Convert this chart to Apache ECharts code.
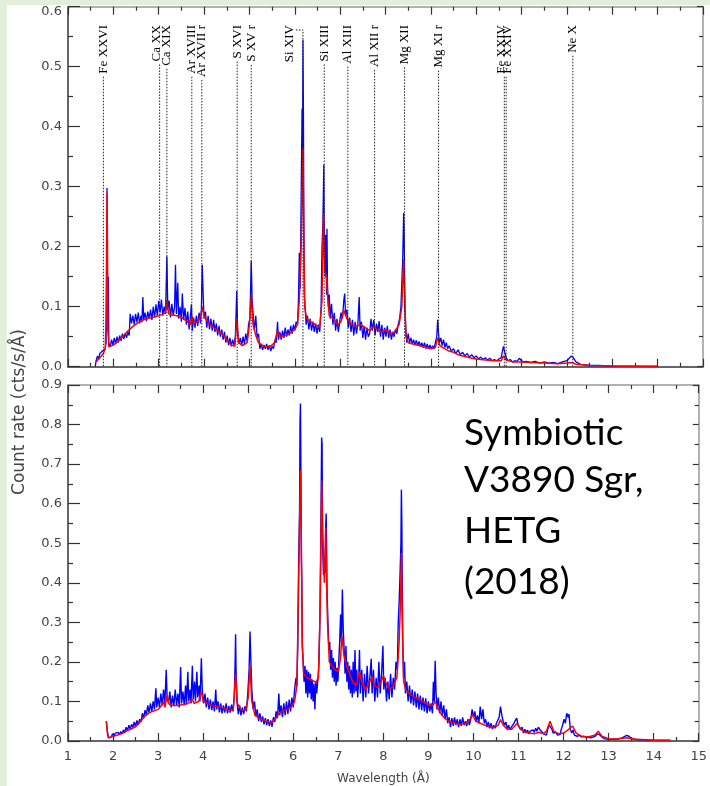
<!DOCTYPE html>
<html><head><meta charset="utf-8">
<script src="https://cdn.jsdelivr.net/npm/echarts@6/dist/echarts.min.js"></script>
<style>html,body{margin:0;padding:0;background:#e2efda;}#c{width:710px;height:786px;}</style>
</head><body><div id="c"></div>
<script>
// ---------- DATA ----------
// Ion line identifications (wavelength in Å)
const lineNames = ['Fe XXVI','Ca XX','Ca XIX','Ar XVIII','Ar XVII r','S XVI','S XV r','Si XIV','Si XIII','Al XIII','Al XII r','Mg XII','Mg XI r','Fe XXIV','Fe XXIV','Ne X'];
const lineWaves = [1.78,3.02,3.18,3.73,3.95,4.73,5.04,6.18,6.65,7.17,7.76,8.42,9.17,10.62,10.66,12.13];
const lineLabelShift = [0,-3,0,0,0,0,0,-13,0,0,0,0,0,-3,1,0]; // label x offset (px) from its line

const xTicks = [1,15,1];
const yTopTicks = [0,0.6,0.1];
const yBotTicks = [0,0.9,0.1];

// Upper panel: observed (blue) and model (red)
const topBlue = [[1.60,0.000],[1.62,0.010],[1.65,0.018],[1.68,0.012],[1.70,0.022],[1.73,0.020],[1.76,0.026],[1.79,0.024],[1.82,0.030],[1.84,0.040],[1.85,0.120],[1.86,0.298],[1.87,0.150],[1.88,0.060],[1.89,0.150],[1.90,0.040],[1.93,0.033],[1.96,0.045],[1.99,0.036],[2.02,0.048],[2.05,0.038],[2.08,0.050],[2.11,0.040],[2.14,0.052],[2.17,0.043],[2.20,0.055],[2.23,0.046],[2.26,0.056],[2.29,0.048],[2.32,0.058],[2.35,0.052],[2.37,0.088],[2.40,0.072],[2.43,0.085],[2.46,0.070],[2.49,0.088],[2.52,0.074],[2.55,0.090],[2.58,0.072],[2.61,0.085],[2.63,0.074],[2.65,0.116],[2.67,0.078],[2.70,0.090],[2.73,0.076],[2.76,0.092],[2.79,0.080],[2.82,0.095],[2.85,0.078],[2.88,0.100],[2.91,0.082],[2.94,0.104],[2.97,0.085],[3.00,0.110],[3.03,0.090],[3.06,0.112],[3.09,0.085],[3.12,0.100],[3.15,0.088],[3.18,0.184],[3.20,0.095],[3.23,0.110],[3.26,0.082],[3.29,0.105],[3.32,0.085],[3.35,0.100],[3.37,0.170],[3.39,0.088],[3.42,0.140],[3.44,0.080],[3.47,0.100],[3.50,0.075],[3.52,0.122],[3.55,0.078],[3.58,0.098],[3.61,0.070],[3.64,0.092],[3.67,0.062],[3.70,0.085],[3.72,0.104],[3.74,0.060],[3.77,0.082],[3.80,0.065],[3.83,0.085],[3.86,0.068],[3.89,0.090],[3.92,0.072],[3.94,0.095],[3.96,0.170],[3.98,0.120],[4.00,0.080],[4.03,0.092],[4.06,0.065],[4.09,0.085],[4.12,0.062],[4.15,0.080],[4.18,0.060],[4.21,0.078],[4.24,0.058],[4.27,0.072],[4.30,0.052],[4.33,0.068],[4.36,0.050],[4.39,0.062],[4.42,0.045],[4.45,0.058],[4.48,0.040],[4.51,0.052],[4.54,0.036],[4.57,0.048],[4.60,0.034],[4.63,0.045],[4.66,0.036],[4.69,0.050],[4.72,0.126],[4.74,0.060],[4.77,0.038],[4.80,0.048],[4.83,0.035],[4.86,0.050],[4.89,0.038],[4.92,0.055],[4.95,0.042],[4.98,0.070],[5.01,0.080],[5.04,0.176],[5.06,0.110],[5.08,0.090],[5.11,0.060],[5.14,0.085],[5.17,0.048],[5.20,0.055],[5.23,0.030],[5.26,0.038],[5.29,0.028],[5.32,0.036],[5.35,0.030],[5.38,0.038],[5.41,0.028],[5.44,0.036],[5.47,0.026],[5.50,0.034],[5.53,0.030],[5.56,0.044],[5.59,0.040],[5.62,0.075],[5.64,0.045],[5.67,0.058],[5.70,0.045],[5.73,0.060],[5.76,0.048],[5.79,0.065],[5.82,0.050],[5.85,0.062],[5.88,0.052],[5.91,0.068],[5.94,0.055],[5.97,0.070],[6.00,0.060],[6.03,0.075],[6.06,0.070],[6.08,0.110],[6.10,0.190],[6.12,0.130],[6.14,0.280],[6.16,0.430],[6.17,0.300],[6.18,0.545],[6.19,0.430],[6.20,0.250],[6.21,0.120],[6.23,0.095],[6.25,0.070],[6.28,0.085],[6.31,0.062],[6.34,0.080],[6.37,0.060],[6.40,0.075],[6.43,0.058],[6.46,0.072],[6.49,0.055],[6.52,0.070],[6.55,0.058],[6.58,0.100],[6.60,0.200],[6.62,0.240],[6.64,0.337],[6.65,0.200],[6.67,0.150],[6.68,0.220],[6.70,0.120],[6.71,0.230],[6.72,0.140],[6.74,0.100],[6.76,0.120],[6.78,0.080],[6.81,0.105],[6.84,0.070],[6.87,0.090],[6.90,0.060],[6.93,0.080],[6.96,0.058],[6.99,0.075],[7.02,0.090],[7.05,0.080],[7.08,0.110],[7.10,0.122],[7.12,0.085],[7.15,0.095],[7.18,0.065],[7.21,0.082],[7.24,0.058],[7.27,0.078],[7.30,0.052],[7.33,0.075],[7.36,0.055],[7.39,0.070],[7.42,0.116],[7.44,0.060],[7.47,0.075],[7.50,0.048],[7.53,0.068],[7.56,0.045],[7.59,0.065],[7.62,0.050],[7.65,0.055],[7.68,0.080],[7.71,0.060],[7.74,0.078],[7.77,0.052],[7.80,0.072],[7.83,0.058],[7.86,0.076],[7.89,0.050],[7.92,0.070],[7.95,0.045],[7.98,0.065],[8.01,0.050],[8.04,0.068],[8.07,0.048],[8.10,0.062],[8.13,0.045],[8.16,0.058],[8.19,0.050],[8.22,0.062],[8.25,0.055],[8.28,0.070],[8.31,0.080],[8.34,0.100],[8.36,0.140],[8.38,0.180],[8.40,0.256],[8.41,0.230],[8.42,0.160],[8.43,0.100],[8.45,0.060],[8.47,0.040],[8.50,0.055],[8.53,0.040],[8.56,0.048],[8.59,0.038],[8.62,0.045],[8.65,0.036],[8.68,0.044],[8.71,0.035],[8.74,0.042],[8.77,0.034],[8.80,0.040],[8.83,0.032],[8.86,0.040],[8.89,0.030],[8.92,0.038],[8.95,0.030],[8.98,0.036],[9.01,0.030],[9.04,0.035],[9.07,0.030],[9.10,0.040],[9.13,0.050],[9.15,0.078],[9.17,0.055],[9.19,0.040],[9.22,0.048],[9.25,0.035],[9.28,0.045],[9.31,0.032],[9.34,0.040],[9.37,0.030],[9.40,0.035],[9.45,0.026],[9.50,0.030],[9.55,0.022],[9.60,0.028],[9.65,0.020],[9.70,0.024],[9.75,0.018],[9.80,0.022],[9.85,0.016],[9.90,0.020],[9.95,0.015],[10.00,0.018],[10.05,0.013],[10.10,0.016],[10.15,0.012],[10.20,0.015],[10.25,0.011],[10.30,0.014],[10.35,0.010],[10.40,0.012],[10.45,0.010],[10.50,0.013],[10.55,0.015],[10.60,0.034],[10.63,0.024],[10.66,0.015],[10.70,0.010],[10.75,0.012],[10.80,0.008],[10.85,0.010],[10.90,0.009],[10.95,0.014],[11.00,0.010],[11.05,0.008],[11.10,0.009],[11.20,0.007],[11.30,0.009],[11.40,0.006],[11.50,0.008],[11.60,0.006],[11.70,0.007],[11.80,0.005],[11.90,0.008],[12.00,0.010],[12.05,0.014],[12.10,0.018],[12.15,0.014],[12.20,0.008],[12.30,0.004],[12.40,0.003],[12.50,0.002],[12.70,0.002],[13.00,0.001],[13.30,0.001],[13.60,0.001],[14.00,0.001]];
const topRed = [[1.62,0.008],[1.70,0.015],[1.78,0.022],[1.82,0.030],[1.84,0.080],[1.86,0.290],[1.87,0.200],[1.88,0.060],[1.90,0.033],[2.00,0.036],[2.10,0.042],[2.20,0.050],[2.30,0.058],[2.40,0.065],[2.50,0.071],[2.60,0.076],[2.70,0.079],[2.80,0.081],[2.90,0.083],[3.00,0.085],[3.10,0.088],[3.15,0.090],[3.18,0.110],[3.22,0.088],[3.30,0.086],[3.40,0.085],[3.50,0.082],[3.60,0.077],[3.70,0.070],[3.73,0.085],[3.76,0.072],[3.85,0.075],[3.93,0.085],[3.96,0.100],[4.00,0.085],[4.10,0.072],[4.20,0.066],[4.30,0.060],[4.40,0.055],[4.50,0.045],[4.60,0.036],[4.68,0.034],[4.72,0.080],[4.76,0.040],[4.85,0.035],[4.95,0.040],[5.00,0.070],[5.04,0.120],[5.08,0.070],[5.15,0.050],[5.20,0.040],[5.30,0.035],[5.40,0.033],[5.48,0.035],[5.55,0.040],[5.62,0.060],[5.68,0.050],[5.80,0.052],[5.90,0.056],[6.00,0.062],[6.06,0.070],[6.10,0.110],[6.14,0.200],[6.16,0.280],[6.18,0.364],[6.20,0.200],[6.22,0.100],[6.26,0.080],[6.35,0.075],[6.45,0.070],[6.55,0.066],[6.60,0.110],[6.63,0.255],[6.66,0.160],[6.70,0.150],[6.72,0.120],[6.76,0.085],[6.85,0.080],[6.95,0.070],[7.02,0.075],[7.08,0.094],[7.15,0.080],[7.25,0.070],[7.35,0.068],[7.45,0.070],[7.55,0.065],[7.65,0.060],[7.75,0.068],[7.80,0.062],[7.90,0.058],[8.00,0.062],[8.10,0.055],[8.20,0.058],[8.30,0.070],[8.36,0.100],[8.40,0.179],[8.42,0.120],[8.45,0.050],[8.50,0.040],[8.60,0.038],[8.70,0.036],[8.80,0.034],[8.90,0.032],[9.00,0.030],[9.10,0.032],[9.15,0.048],[9.20,0.035],[9.30,0.030],[9.40,0.026],[9.50,0.024],[9.60,0.020],[9.70,0.018],[9.80,0.016],[9.90,0.014],[10.00,0.013],[10.20,0.011],[10.40,0.010],[10.55,0.010],[10.60,0.018],[10.66,0.011],[10.80,0.008],[11.00,0.008],[11.20,0.007],[11.50,0.006],[11.80,0.005],[12.00,0.006],[12.12,0.007],[12.20,0.004],[12.50,0.002],[13.00,0.001],[14.00,0.000]];

// Lower panel: observed (blue) and model (red)
const botBlue = [[1.85,0.050],[1.88,0.020],[1.90,0.008],[1.93,0.012],[1.96,0.010],[1.99,0.018],[2.02,0.012],[2.05,0.020],[2.08,0.015],[2.11,0.022],[2.14,0.016],[2.17,0.024],[2.20,0.018],[2.23,0.028],[2.26,0.022],[2.29,0.035],[2.32,0.026],[2.35,0.040],[2.38,0.030],[2.41,0.042],[2.44,0.034],[2.47,0.048],[2.50,0.036],[2.53,0.052],[2.56,0.040],[2.59,0.055],[2.62,0.048],[2.65,0.070],[2.68,0.058],[2.71,0.078],[2.74,0.065],[2.77,0.090],[2.80,0.072],[2.83,0.095],[2.86,0.075],[2.89,0.100],[2.92,0.080],[2.95,0.133],[2.97,0.085],[3.00,0.110],[3.03,0.085],[3.06,0.120],[3.09,0.090],[3.12,0.130],[3.15,0.095],[3.18,0.180],[3.20,0.110],[3.23,0.095],[3.26,0.125],[3.29,0.085],[3.32,0.115],[3.35,0.088],[3.38,0.130],[3.41,0.090],[3.44,0.120],[3.47,0.085],[3.50,0.187],[3.52,0.095],[3.55,0.125],[3.58,0.090],[3.61,0.140],[3.63,0.092],[3.66,0.175],[3.68,0.100],[3.71,0.130],[3.73,0.095],[3.76,0.190],[3.78,0.105],[3.81,0.150],[3.83,0.100],[3.86,0.175],[3.88,0.110],[3.91,0.140],[3.93,0.100],[3.96,0.209],[3.98,0.130],[4.01,0.095],[4.04,0.120],[4.07,0.085],[4.10,0.110],[4.13,0.080],[4.16,0.105],[4.19,0.078],[4.22,0.100],[4.25,0.075],[4.28,0.130],[4.30,0.080],[4.33,0.100],[4.36,0.072],[4.39,0.095],[4.42,0.070],[4.45,0.090],[4.48,0.072],[4.51,0.095],[4.54,0.070],[4.57,0.088],[4.60,0.072],[4.63,0.092],[4.66,0.075],[4.69,0.110],[4.71,0.200],[4.72,0.270],[4.73,0.180],[4.75,0.100],[4.78,0.068],[4.81,0.090],[4.84,0.065],[4.87,0.085],[4.90,0.068],[4.93,0.088],[4.96,0.075],[4.99,0.120],[5.02,0.180],[5.04,0.277],[5.06,0.200],[5.08,0.130],[5.11,0.080],[5.14,0.100],[5.17,0.062],[5.20,0.080],[5.23,0.050],[5.26,0.070],[5.29,0.048],[5.32,0.062],[5.35,0.042],[5.38,0.058],[5.41,0.040],[5.44,0.055],[5.47,0.038],[5.50,0.052],[5.53,0.036],[5.56,0.060],[5.59,0.048],[5.62,0.075],[5.65,0.058],[5.68,0.120],[5.70,0.065],[5.73,0.090],[5.76,0.060],[5.79,0.095],[5.82,0.065],[5.85,0.100],[5.88,0.068],[5.91,0.105],[5.94,0.075],[5.97,0.110],[6.00,0.085],[6.03,0.130],[6.06,0.160],[6.08,0.140],[6.10,0.240],[6.12,0.460],[6.14,0.580],[6.15,0.810],[6.16,0.853],[6.17,0.680],[6.18,0.460],[6.19,0.400],[6.20,0.240],[6.22,0.200],[6.24,0.150],[6.26,0.190],[6.28,0.120],[6.30,0.180],[6.32,0.110],[6.34,0.175],[6.36,0.120],[6.38,0.170],[6.40,0.105],[6.42,0.155],[6.44,0.100],[6.46,0.145],[6.48,0.080],[6.50,0.150],[6.52,0.120],[6.55,0.160],[6.57,0.200],[6.59,0.300],[6.61,0.500],[6.62,0.630],[6.63,0.767],[6.64,0.750],[6.65,0.500],[6.67,0.420],[6.69,0.450],[6.71,0.425],[6.72,0.540],[6.73,0.575],[6.74,0.500],[6.75,0.380],[6.77,0.300],[6.79,0.230],[6.81,0.250],[6.83,0.180],[6.85,0.230],[6.87,0.160],[6.89,0.210],[6.91,0.150],[6.93,0.200],[6.95,0.140],[6.97,0.185],[6.99,0.150],[7.01,0.200],[7.03,0.250],[7.05,0.320],[7.07,0.250],[7.09,0.383],[7.11,0.280],[7.13,0.230],[7.15,0.170],[7.17,0.240],[7.19,0.150],[7.21,0.200],[7.23,0.130],[7.25,0.190],[7.27,0.120],[7.29,0.180],[7.31,0.110],[7.33,0.200],[7.35,0.120],[7.37,0.230],[7.39,0.125],[7.41,0.180],[7.43,0.110],[7.45,0.150],[7.47,0.230],[7.49,0.120],[7.52,0.180],[7.55,0.100],[7.58,0.170],[7.61,0.110],[7.64,0.190],[7.67,0.120],[7.70,0.160],[7.73,0.208],[7.75,0.120],[7.78,0.180],[7.81,0.100],[7.84,0.160],[7.87,0.110],[7.90,0.200],[7.93,0.120],[7.96,0.170],[7.99,0.241],[8.01,0.130],[8.04,0.160],[8.07,0.100],[8.10,0.150],[8.13,0.105],[8.16,0.170],[8.19,0.110],[8.22,0.160],[8.25,0.130],[8.28,0.200],[8.31,0.180],[8.33,0.300],[8.35,0.350],[8.37,0.420],[8.39,0.500],[8.40,0.635],[8.41,0.550],[8.42,0.380],[8.43,0.250],[8.45,0.160],[8.47,0.200],[8.49,0.120],[8.52,0.150],[8.55,0.100],[8.58,0.140],[8.61,0.095],[8.64,0.130],[8.67,0.090],[8.70,0.125],[8.73,0.085],[8.76,0.120],[8.79,0.080],[8.82,0.115],[8.85,0.078],[8.88,0.110],[8.91,0.075],[8.94,0.108],[8.97,0.070],[9.00,0.100],[9.03,0.075],[9.06,0.095],[9.09,0.070],[9.11,0.150],[9.13,0.100],[9.15,0.203],[9.17,0.120],[9.19,0.080],[9.22,0.110],[9.25,0.070],[9.28,0.100],[9.31,0.065],[9.34,0.090],[9.37,0.055],[9.40,0.080],[9.43,0.045],[9.46,0.060],[9.49,0.035],[9.52,0.058],[9.55,0.038],[9.58,0.060],[9.61,0.040],[9.64,0.055],[9.67,0.035],[9.70,0.055],[9.73,0.038],[9.76,0.060],[9.79,0.040],[9.82,0.050],[9.85,0.038],[9.88,0.055],[9.91,0.040],[9.94,0.055],[9.97,0.080],[10.00,0.060],[10.03,0.075],[10.06,0.050],[10.09,0.065],[10.12,0.045],[10.15,0.087],[10.18,0.055],[10.21,0.080],[10.24,0.045],[10.27,0.055],[10.30,0.035],[10.33,0.048],[10.36,0.032],[10.39,0.045],[10.42,0.030],[10.45,0.040],[10.48,0.032],[10.51,0.045],[10.54,0.040],[10.57,0.060],[10.60,0.087],[10.63,0.065],[10.66,0.050],[10.69,0.040],[10.72,0.048],[10.75,0.030],[10.78,0.040],[10.81,0.028],[10.84,0.035],[10.87,0.030],[10.90,0.045],[10.93,0.052],[10.96,0.058],[10.99,0.040],[11.02,0.045],[11.05,0.028],[11.08,0.035],[11.11,0.020],[11.14,0.030],[11.17,0.020],[11.20,0.028],[11.23,0.018],[11.26,0.025],[11.29,0.020],[11.32,0.028],[11.35,0.022],[11.38,0.032],[11.41,0.025],[11.44,0.035],[11.47,0.037],[11.50,0.025],[11.53,0.030],[11.56,0.018],[11.59,0.022],[11.62,0.015],[11.65,0.030],[11.68,0.040],[11.71,0.045],[11.74,0.030],[11.77,0.020],[11.80,0.018],[11.83,0.022],[11.86,0.015],[11.89,0.020],[11.92,0.016],[11.95,0.030],[11.98,0.040],[12.01,0.055],[12.04,0.045],[12.07,0.070],[12.10,0.060],[12.12,0.068],[12.15,0.030],[12.18,0.020],[12.21,0.028],[12.24,0.015],[12.27,0.018],[12.30,0.012],[12.35,0.014],[12.40,0.010],[12.45,0.012],[12.50,0.009],[12.55,0.010],[12.60,0.008],[12.65,0.010],[12.70,0.012],[12.75,0.018],[12.80,0.016],[12.85,0.010],[12.90,0.006],[12.95,0.005],[13.00,0.004],[13.10,0.004],[13.20,0.005],[13.30,0.008],[13.40,0.014],[13.45,0.012],[13.50,0.007],[13.60,0.004],[13.70,0.003],[13.80,0.003],[13.90,0.002],[14.00,0.002],[14.20,0.002],[14.37,0.002]];
const botRed = [[1.85,0.050],[1.88,0.015],[1.90,0.008],[2.00,0.012],[2.10,0.015],[2.20,0.019],[2.30,0.025],[2.40,0.030],[2.50,0.036],[2.60,0.048],[2.70,0.062],[2.80,0.071],[2.90,0.076],[3.00,0.080],[3.08,0.090],[3.12,0.100],[3.15,0.085],[3.20,0.115],[3.25,0.092],[3.35,0.090],[3.45,0.090],[3.55,0.092],[3.65,0.095],[3.72,0.098],[3.76,0.105],[3.80,0.095],[3.90,0.100],[3.96,0.125],[4.00,0.100],[4.10,0.095],[4.20,0.090],[4.30,0.088],[4.40,0.085],[4.50,0.082],[4.60,0.078],[4.67,0.078],[4.72,0.170],[4.76,0.095],[4.85,0.078],[4.95,0.080],[5.00,0.110],[5.04,0.190],[5.08,0.100],[5.15,0.065],[5.25,0.058],[5.35,0.052],[5.45,0.048],[5.52,0.047],[5.60,0.055],[5.68,0.070],[5.75,0.075],[5.85,0.080],[5.95,0.085],[6.03,0.100],[6.08,0.140],[6.12,0.400],[6.14,0.550],[6.16,0.685],[6.18,0.500],[6.20,0.250],[6.23,0.170],[6.30,0.160],[6.40,0.155],[6.50,0.148],[6.56,0.160],[6.60,0.350],[6.63,0.658],[6.65,0.550],[6.67,0.467],[6.69,0.400],[6.72,0.540],[6.74,0.400],[6.76,0.300],[6.80,0.200],[6.90,0.183],[7.00,0.175],[7.05,0.210],[7.08,0.267],[7.12,0.220],[7.18,0.190],[7.25,0.170],[7.32,0.150],[7.40,0.140],[7.46,0.175],[7.52,0.150],[7.60,0.130],[7.68,0.145],[7.75,0.163],[7.80,0.140],[7.88,0.135],[7.95,0.150],[8.00,0.165],[8.08,0.140],[8.15,0.130],[8.22,0.140],[8.30,0.160],[8.35,0.250],[8.38,0.350],[8.40,0.475],[8.42,0.300],[8.45,0.150],[8.50,0.128],[8.60,0.118],[8.70,0.110],[8.80,0.105],[8.90,0.098],[9.00,0.092],[9.10,0.090],[9.15,0.100],[9.22,0.080],[9.30,0.065],[9.40,0.054],[9.50,0.048],[9.60,0.045],[9.70,0.042],[9.80,0.045],[9.90,0.050],[9.98,0.067],[10.05,0.050],[10.15,0.045],[10.25,0.040],[10.35,0.036],[10.45,0.034],[10.55,0.040],[10.60,0.054],[10.66,0.040],[10.75,0.030],[10.85,0.030],[10.97,0.045],[11.05,0.030],[11.15,0.022],[11.25,0.020],[11.35,0.018],[11.45,0.022],[11.55,0.018],[11.62,0.025],[11.70,0.050],[11.78,0.025],[11.90,0.018],[12.00,0.020],[12.10,0.028],[12.20,0.038],[12.28,0.020],[12.40,0.012],[12.55,0.010],[12.70,0.015],[12.77,0.025],[12.85,0.012],[13.00,0.006],[13.20,0.005],[13.40,0.008],[13.55,0.005],[13.80,0.003],[14.00,0.002],[14.37,0.001]];

const yTitle = 'Count rate (cts/s/Å)';
const xTitle = 'Wavelength (Å)';
const noteLines = ['Symbiotic','V3890 Sgr,','HETG','(2018)'];

// ---------- CHART ----------
const chart = echarts.init(document.getElementById('c'), null, {renderer:'canvas'});
const tickFont = {fontFamily:'DejaVu Sans', fontSize:13, color:'#444'};
const darkLine = {color:'#333', width:1.5};
const lightLine = {color:'#999', width:1.5};

function xAx(grid, pos, labels){
  return {gridIndex:grid, type:'value', position:pos, min:xTicks[0], max:xTicks[1], interval:xTicks[2],
    axisLine:{show:true, onZero:false, lineStyle: pos==='bottom'?darkLine:lightLine},
    axisTick:{show:true, inside:true, length: 8, lineStyle:{color:'#333', width:1.2}},
    minorTick:{show:true, splitNumber:2, length:4, lineStyle:{color:'#333', width:1.2}},
    splitLine:{show:false},
    axisLabel: labels ? Object.assign({show:true, margin:9}, tickFont) : {show:false},
    name: labels ? xTitle : '', nameLocation:'middle', nameGap:32,
    nameTextStyle:{fontFamily:'DejaVu Sans', fontSize:12, color:'#444'}};
}
function yAx(grid, pos, t){
  const left = pos==='left';
  return {gridIndex:grid, type:'value', position:pos, min:t[0], max:t[1], interval:t[2],
    axisLine:{show:true, onZero:false, lineStyle: left?darkLine:lightLine},
    axisTick:{show:true, inside:true, length: left?12:6, lineStyle:{color:'#333', width:1.2}},
    minorTick:{show:true, splitNumber:2, length: left?5:4, lineStyle:{color:'#333', width:1.2}},
    splitLine:{show:false},
    axisLabel: left ? Object.assign({show:true, margin:6,
      formatter:v => (grid===0 && v>=t[1]-1e-9) ? '{top|'+v.toFixed(1)+'}' : v.toFixed(1),
      rich:{top:{fontFamily:'DejaVu Sans', fontSize:13, color:'#444', padding:[10,0,0,0]}}}, tickFont) : {show:false}};
}

const lineSeries = (data, xi, color, w, z) => ({type:'line', data, xAxisIndex:xi, yAxisIndex:xi,
  showSymbol:false, symbol:'none', lineStyle:{color, width:w}, z, silent:true, animation:false, clip:true});

chart.setOption({
  animation:false,
  backgroundColor:'#e2efda',
  grid:[{left:68, right:7, top:6.7, height:360},{left:68, right:7, top:385, height:360}],
  xAxis:[xAx(0,'bottom',false), xAx(0,'top',false), xAx(1,'bottom',true), xAx(1,'top',false)],
  yAxis:[yAx(0,'left',yTopTicks), yAx(0,'right',yTopTicks), yAx(1,'left',yBotTicks), yAx(1,'right',yBotTicks)],
  series:[
    lineSeries(topBlue,0,'#0000ff',1.3,3),
    lineSeries(topRed,0,'#ff0000',1.5,4),
    Object.assign(lineSeries(botBlue,2,'#0000ff',1.4,3),{xAxisIndex:2, yAxisIndex:2}),
    Object.assign(lineSeries(botRed,2,'#ff0000',1.5,4),{xAxisIndex:2, yAxisIndex:2})
  ]
});

// ---------- annotations ----------
const ctx = document.createElement('canvas').getContext('2d');
const labFont = '13px "Liberation Serif"';
ctx.font = labFont;
const labelTop = 25;
const g = [{type:'rect', shape:{x:7, y:5, width:703, height:781}, style:{fill:'#fff'}, z:-100, silent:true}];
const yZero = chart.convertToPixel({yAxisIndex:0}, 0);
lineNames.forEach((name, i) => {
  const lx = chart.convertToPixel({xAxisIndex:0}, lineWaves[i]);
  const tx = lx + lineLabelShift[i];
  const w = ctx.measureText(name).width;
  g.push({type:'text', x:tx, y:labelTop, rotation:Math.PI/2, z:10, silent:true,
    style:{text:name, font:labFont, fill:'#000', align:'right', verticalAlign:'middle'}});
  if (name === 'Si XIV') {
    const yb = labelTop + 5;
    g.push({type:'polyline', shape:{points:[[tx+6,yb],[lx,yb],[lx,yZero]]}, z:9, silent:true,
      style:{stroke:'#222', lineWidth:1, lineDash:[1.5,1.5], fill:null}});
  } else {
    g.push({type:'line', shape:{x1:lx, y1:labelTop + w + 3, x2:lx, y2:yZero}, z:9, silent:true,
      style:{stroke:'#222', lineWidth:1, lineDash:[1.5,1.5]}});
  }
});
g.push({type:'text', x:20, y:412, rotation:Math.PI/2, z:10, silent:true,
  style:{text:yTitle, font:'17px "DejaVu Sans"', fill:'#444', align:'center', verticalAlign:'middle'}});
const noteY = [433, 480, 531, 582];
noteLines.forEach((t, i) => g.push({type:'text', x:464, y:noteY[i], z:10, silent:true,
  style:{text:t, font:'37px Lato', fill:'#000', align:'left', verticalAlign:'middle'}}));
chart.setOption({graphic:g});
</script></body></html>
